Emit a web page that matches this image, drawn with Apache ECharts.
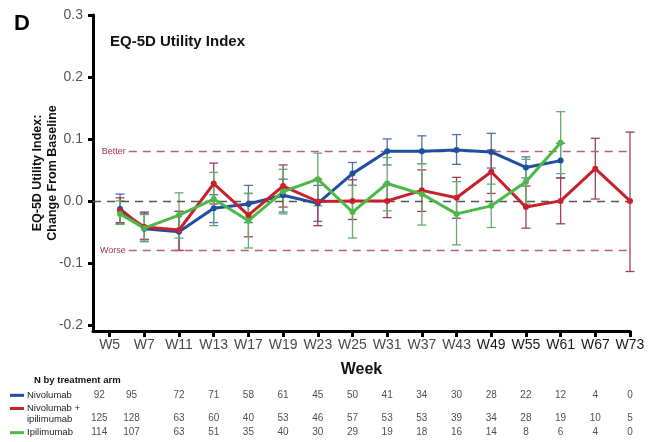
<!DOCTYPE html>
<html>
<head>
<meta charset="utf-8">
<script src="https://cdn.jsdelivr.net/npm/echarts@6/dist/echarts.min.js"></script>
<style>
  html, body { margin: 0; padding: 0; background: #ffffff; }
  #chart { width: 654px; height: 442px; }
</style>
</head>
<body>
<div id="chart"></div>
<script>
// Visit labels along the x axis
const weeks = ['W5', 'W7', 'W11', 'W13', 'W17', 'W19', 'W23', 'W25', 'W31', 'W37', 'W43', 'W49', 'W55', 'W61', 'W67', 'W73'];
// x position of each visit on the axis (tick index; first visit sits slightly right of its tick)
const visitX = [0.3, 1, 2, 3, 4, 5, 6, 7, 8, 9, 10, 11, 12, 13, 14, 15];
// x position of each column of patient counts
const countX = [-0.3, 0.63, 2, 3, 4, 5, 6, 7, 8, 9, 10, 11, 12, 13, 14, 15];

// Mean change from baseline and 95% CI, per arm
const nivoMean = [-0.013, -0.045, -0.050, -0.012, -0.005, 0.009, -0.004, 0.044, 0.080, 0.080, 0.082, 0.079, 0.054, 0.065, null, null];
const nivoLow  = [-0.037, -0.065, -0.080, -0.035, -0.035, -0.018, -0.033, 0.025, 0.058, 0.060, 0.059, 0.053, 0.037, 0.037, null, null];
const nivoHigh = [0.011, -0.020, -0.017, 0.010, 0.025, 0.035, 0.025, 0.062, 0.100, 0.105, 0.107, 0.109, 0.071, 0.093, null, null];

const comboMean = [-0.016, -0.042, -0.047, 0.028, -0.023, 0.024, -0.001, 0.000, 0.000, 0.017, 0.005, 0.047, -0.010, 0.000, 0.052, 0.000];
const comboLow  = [-0.035, -0.062, -0.080, -0.005, -0.058, -0.010, -0.040, -0.030, -0.027, -0.017, -0.028, 0.012, -0.044, -0.037, 0.003, -0.114];
const comboHigh = [0.005, -0.018, -0.017, 0.061, 0.012, 0.058, 0.035, 0.034, 0.027, 0.050, 0.038, 0.082, 0.024, 0.037, 0.101, 0.111];

const ipiMean = [-0.021, -0.044, -0.023, 0.003, -0.032, 0.015, 0.035, -0.018, 0.028, 0.011, -0.021, -0.008, 0.031, 0.094, null, null];
const ipiLow  = [-0.038, -0.066, -0.060, -0.040, -0.076, -0.021, -0.008, -0.060, -0.016, -0.039, -0.071, -0.043, -0.005, 0.044, null, null];
const ipiHigh = [0.000, -0.022, 0.013, 0.046, 0.012, 0.051, 0.077, 0.025, 0.070, 0.060, 0.031, 0.027, 0.067, 0.144, null, null];

// Number of patients by treatment arm at each visit
const nivoN  = [92, 95, 72, 71, 58, 61, 45, 50, 41, 34, 30, 28, 22, 12, 4, 0];
const comboN = [125, 128, 63, 60, 40, 53, 46, 57, 53, 53, 39, 34, 28, 19, 10, 5];
const ipiN   = [114, 107, 63, 51, 35, 40, 30, 29, 19, 18, 16, 14, 8, 6, 4, 0];

const armNames = ['Nivolumab', 'Nivolumab +\nipilimumab', 'Ipilimumab'];
const yTicks = [-0.2, -0.1, 0, 0.1, 0.2, 0.3];
const betterLevel = 0.08;
const worseLevel = -0.08;

const FONT = '"Liberation Sans", Arial, sans-serif';
const NARROW = '"Liberation Sans Narrow", "Liberation Sans", Arial, sans-serif';

const arms = [
  { name: 'Nivolumab', mean: nivoMean, low: nivoLow, high: nivoHigh, line: '#1f4f9f', bar: '#4d74a6', n: nivoN },
  { name: 'Nivolumab + ipilimumab', mean: comboMean, low: comboLow, high: comboHigh, line: '#c7212c', bar: '#a43d55', n: comboN },
  { name: 'Ipilimumab', mean: ipiMean, low: ipiLow, high: ipiHigh, line: '#4cb848', bar: '#62ad6c', n: ipiN }
];

function pointsOf(vals) {
  const out = [];
  vals.forEach((v, i) => { if (v !== null) out.push([visitX[i], v]); });
  return out;
}

function ciOf(arm) {
  const out = [];
  arm.low.forEach((lo, i) => { if (lo !== null) out.push([visitX[i], lo, arm.high[i]]); });
  return out;
}

function errorBar(color) {
  return function (params, api) {
    const x = api.value(0);
    const top = api.coord([x, api.value(2)]);
    const bot = api.coord([x, api.value(1)]);
    const w = 4.5;
    const style = { stroke: color, lineWidth: 1.3, fill: null };
    return {
      type: 'group',
      children: [
        { type: 'line', shape: { x1: top[0], y1: top[1], x2: bot[0], y2: bot[1] }, style: style },
        { type: 'line', shape: { x1: top[0] - w, y1: top[1], x2: top[0] + w, y2: top[1] }, style: style },
        { type: 'line', shape: { x1: bot[0] - w, y1: bot[1], x2: bot[0] + w, y2: bot[1] }, style: style }
      ]
    };
  };
}

const series = [];

// confidence intervals underneath the lines
arms.forEach(arm => {
  series.push({
    type: 'custom',
    name: arm.name + ' CI',
    xAxisIndex: 0, yAxisIndex: 0,
    renderItem: errorBar(arm.bar),
    data: ciOf(arm),
    silent: true,
    z: 2
  });
});

// reference lines: no change, better / worse thresholds
const refLabelGap = 0.55;
series.push({
  type: 'line',
  name: 'reference',
  xAxisIndex: 0, yAxisIndex: 0,
  data: [],
  silent: true,
  markLine: {
    symbol: 'none',
    silent: true,
    animation: false,
    data: [
      { yAxis: 0, lineStyle: { color: '#555555', type: [8, 6], width: 1.4 }, label: { show: false } },
      [
        { coord: [refLabelGap, betterLevel], lineStyle: { color: '#b0617b', type: [8, 6], width: 1.3 },
          label: { show: true, position: 'start', formatter: 'Better', color: '#a43645', fontSize: 9, fontFamily: FONT, distance: 3 } },
        { coord: [weeks.length - 1, betterLevel] }
      ],
      [
        { coord: [refLabelGap, worseLevel], lineStyle: { color: '#b0617b', type: [8, 6], width: 1.3 },
          label: { show: true, position: 'start', formatter: 'Worse', color: '#a43645', fontSize: 9, fontFamily: FONT, distance: 3 } },
        { coord: [weeks.length - 1, worseLevel] }
      ]
    ]
  },
  z: 1
});

// mean change lines
arms.forEach(arm => {
  series.push({
    type: 'line',
    name: arm.name,
    xAxisIndex: 0, yAxisIndex: 0,
    data: pointsOf(arm.mean),
    symbol: 'circle',
    symbolSize: 6,
    itemStyle: { color: arm.line },
    lineStyle: { color: arm.line, width: 3 },
    silent: true,
    z: 5
  });
});

// patient counts table
arms.forEach((arm, r) => {
  series.push({
    type: 'scatter',
    xAxisIndex: 1, yAxisIndex: 1,
    symbolSize: 0,
    silent: true,
    data: arm.n.map((v, i) => [countX[i], armNames[r], v]),
    label: {
      show: true,
      position: 'inside',
      formatter: p => String(p.value[2]),
      color: '#222222',
      fontSize: 10,
      fontFamily: NARROW,
      offset: r === 1 ? [0, 4] : [0, 0]
    }
  });
});

const option = {
  animation: false,
  backgroundColor: '#ffffff',
  title: [
    { text: 'D', left: 9, top: 8, textStyle: { fontFamily: FONT, fontWeight: 'bold', fontSize: 22, color: '#000' } },
    { text: 'EQ-5D Utility Index', left: 105, top: 29, textStyle: { fontFamily: FONT, fontWeight: 'bold', fontSize: 15, color: '#111' } },
    { text: 'N by treatment arm', left: 29, top: 370, textStyle: { fontFamily: NARROW, fontWeight: 'bold', fontSize: 9.5, color: '#111' } }
  ],
  grid: [
    { left: 93, right: 24, top: 15, bottom: 111 },
    { left: 93, right: 24, top: 386, height: 60 }
  ],
  xAxis: [
    {
      type: 'value', gridIndex: 0,
      min: -0.48, max: weeks.length - 1,
      splitLine: { show: false },
      axisLine: { show: true, onZero: false, lineStyle: { color: '#000', width: 3 } },
      axisTick: { show: true, length: 6, lineStyle: { color: '#000', width: 3 }, customValues: weeks.map((w, i) => i) },
      axisLabel: {
        show: true, customValues: weeks.map((w, i) => i),
        formatter: v => weeks[Math.round(v)],
        color: v => (v >= 11 ? '#1a1a1a' : '#4a4a4a'),
        fontSize: 14, fontFamily: FONT, margin: 7
      },
      name: 'Week', nameLocation: 'middle', nameGap: 31,
      nameTextStyle: { fontFamily: FONT, fontWeight: 'bold', fontSize: 16, color: '#111' }
    },
    {
      type: 'value', gridIndex: 1,
      min: -0.48, max: weeks.length - 1,
      show: false
    }
  ],
  yAxis: [
    {
      type: 'value', gridIndex: 0,
      min: -0.21, max: 0.3,
      splitLine: { show: false },
      axisLine: { show: true, onZero: false, lineStyle: { color: '#000', width: 3 } },
      axisTick: { show: true, length: 5, lineStyle: { color: '#000', width: 3 }, customValues: yTicks },
      axisLabel: {
        show: true, customValues: yTicks,
        formatter: v => v.toFixed(1),
        color: '#555', fontSize: 14, fontFamily: FONT, margin: 10
      },
      name: 'EQ-5D Utility Index:\nChange From Baseline',
      nameLocation: 'middle', nameGap: 33, nameRotate: 90, nameMoveOverlap: false,
      nameTextStyle: { fontFamily: FONT, fontWeight: 'bold', fontSize: 12.5, color: '#111', lineHeight: 15 }
    },
    {
      type: 'category', gridIndex: 1,
      data: armNames, inverse: true,
      axisLine: { show: false }, axisTick: { show: false }, splitLine: { show: false },
      axisLabel: {
        show: true, align: 'left', margin: 83,
        fontFamily: NARROW, fontSize: 9.5, color: '#222',
        formatter: (v, i) => {
          const key = ['b', 'r', 'g'][i];
          if (i === 1) return '{' + key + '|}{t|Nivolumab +}\n{s|}{t|ipilimumab}';
          return '{' + key + '|}{t|' + v + '}';
        },
        rich: {
          b: { width: 14, height: 3, backgroundColor: '#1f4f9f' },
          r: { width: 14, height: 3, backgroundColor: '#c7212c' },
          g: { width: 14, height: 3, backgroundColor: '#4cb848' },
          s: { width: 14, height: 3 },
          t: { fontFamily: NARROW, fontSize: 9.5, color: '#222', padding: [0, 0, 0, 3], lineHeight: 11 }
        }
      }
    }
  ],
  series: series
};

const chart = echarts.init(document.getElementById('chart'), null, { renderer: 'canvas' });
chart.setOption(option);
</script>
</body>
</html>
